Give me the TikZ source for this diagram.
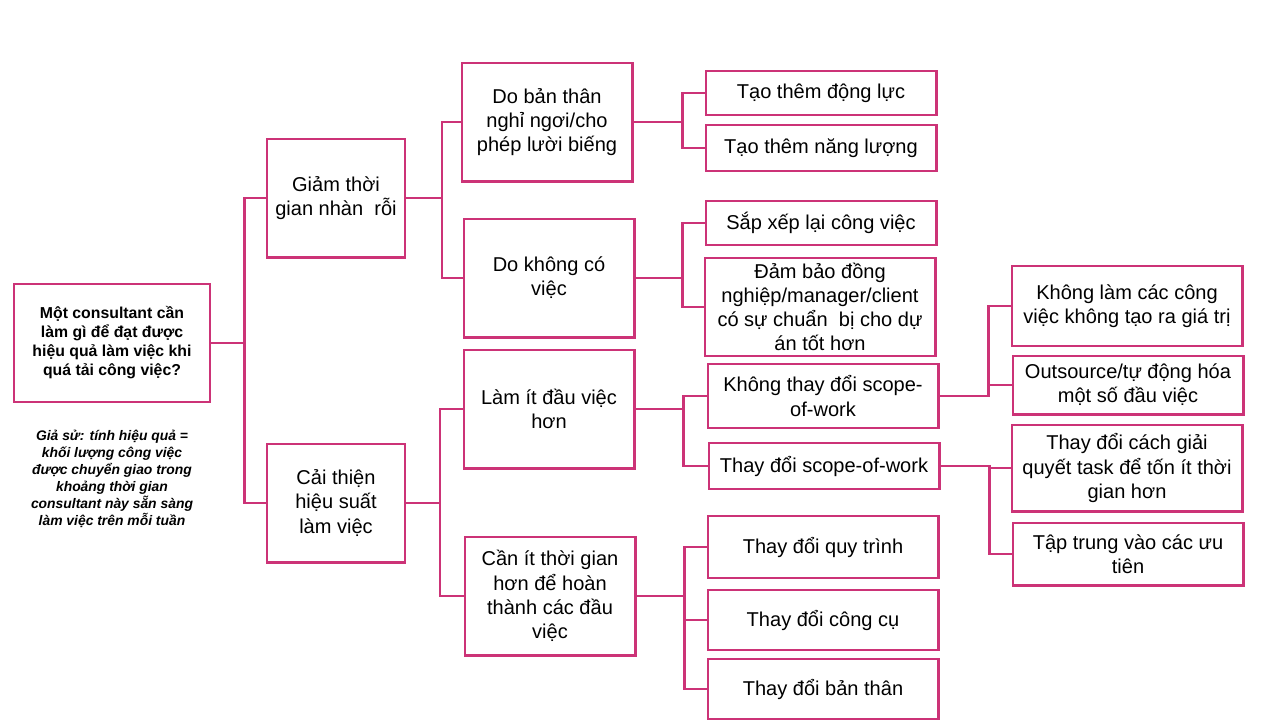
\documentclass[tikz,border=0pt]{standalone}
\usepackage{fontspec}
\setmainfont{Liberation Sans}
\usepackage{tikz}
\usetikzlibrary{positioning}
\definecolor{boxpink}{RGB}{204,51,119}

\begin{document}
\begin{tikzpicture}[
  x=0.02cm, y=-0.02cm,
  every node/.style={align=center, inner sep=1pt, font=\fontsize{11.4}{13.8}\selectfont},
  box/.style={draw=boxpink, line width=1.15pt, fill=white},
  lvone/.style={box, minimum width=2.76cm, minimum height=2.38cm},
  lvtwo/.style={box, minimum width=3.42cm, minimum height=2.38cm},
  leaf/.style={box, minimum width=4.62cm},
  link/.style={draw=boxpink, line width=1.15pt}
]
  \useasboundingbox (0,0) rectangle (1280,720);

  % root question and note
  \node[box, minimum width=3.94cm, minimum height=2.36cm, font=\fontsize{9}{10.8}\selectfont\bfseries] (root) at (112,343)
    {Một consultant cần\\làm gì để đạt được\\hiệu quả làm việc khi\\quá tải công việc?};
  \node[font=\fontsize{7.9}{9.6}\selectfont\bfseries\itshape] (note) at (112,479)
    {Giả sử: tính hiệu quả =\\khối lượng công việc\\được chuyển giao trong\\khoảng thời gian\\consultant này sẵn sàng\\làm việc trên mỗi tuần};

  % first level
  \node[lvone] (gi) at (336,198) {Giảm thời\\gian nhàn\ \ rỗi};
  \node[lvone] (ct) at (336,503) {Cải thiện\\hiệu suất\\làm việc};

  % second level
  \node[lvtwo] (bt) at (547,122) {Do bản thân\\nghỉ ngơi/cho\\phép lười biếng};
  \node[lvtwo] (kc) at (549,278) {Do không có\\việc};
  \node[lvtwo] (li) at (549,409) {Làm ít đầu việc\\hơn};
  \node[lvtwo] (cn) at (550,596) {Cần ít thời gian\\hơn để hoàn\\thành các đầu\\việc};

  % third level
  \node[leaf, minimum height=0.88cm] (dl) at (821,93) {Tạo thêm động lực};
  \node[leaf, minimum height=0.92cm] (nl) at (821,148) {Tạo thêm năng lượng};
  \node[leaf, minimum height=0.88cm] (sx) at (821,223) {Sắp xếp lại công việc};
  \node[leaf, minimum height=1.96cm] (db) at (820,307) {Đảm bảo đồng\\nghiệp/manager/client\\có sự chuẩn\ \ bị cho dự\\án tốt hơn};
  \node[leaf, minimum height=1.28cm] (kt) at (823,396) {Không thay đổi scope-\\of-work};
  \node[leaf, minimum height=0.92cm] (ts) at (824,466) {Thay đổi scope-of-work};
  \node[leaf, minimum height=1.24cm] (qt) at (823,547) {Thay đổi quy trình};
  \node[leaf, minimum height=1.20cm] (cc) at (823,620) {Thay đổi công cụ};
  \node[leaf, minimum height=1.20cm] (ba) at (823,689) {Thay đổi bản thân};

  % fourth level
  \node[leaf, minimum height=1.60cm] (kl) at (1127,306) {Không làm các công\\việc không tạo ra giá trị};
  \node[leaf, minimum height=1.18cm] (os) at (1128,385) {Outsource/tự động hóa\\một số đầu việc};
  \node[leaf, minimum height=1.74cm] (cg) at (1127,468) {Thay đổi cách giải\\quyết task để tốn ít thời\\gian hơn};
  \node[leaf, minimum height=1.26cm] (tt) at (1128,554) {Tập trung vào các ưu\\tiên};

  % connectors
  \draw[link] (root.east) -- ++(33,0) |- (gi.west);
  \draw[link] (root.east) -- ++(33,0) |- (ct.west);
  \draw[link] (gi.east) -- ++(36,0) |- (bt.west);
  \draw[link] (gi.east) -- ++(36,0) |- (kc.west);
  \draw[link] (ct.east) -- ++(34,0) |- (li.west);
  \draw[link] (ct.east) -- ++(34,0) |- (cn.west);
  \draw[link] (bt.east) -- ++(49,0) |- (dl.west);
  \draw[link] (bt.east) -- ++(49,0) |- (nl.west);
  \draw[link] (kc.east) -- ++(47,0) |- (sx.west);
  \draw[link] (kc.east) -- ++(47,0) |- (db.west);
  \draw[link] (li.east) -- ++(48,0) |- (kt.west);
  \draw[link] (li.east) -- ++(48,0) |- (ts.west);
  \draw[link] (cn.east) -- ++(48,0) |- (qt.west);
  \draw[link] (cn.east) -- ++(48,0) |- (cc.west);
  \draw[link] (cn.east) -- ++(48,0) |- (ba.west);
  \draw[link] (kt.east) -- ++(49,0) |- (kl.west);
  \draw[link] (kt.east) -- ++(49,0) |- (os.west);
  \draw[link] (ts.east) -- ++(49,0) |- (cg.west);
  \draw[link] (ts.east) -- ++(49,0) |- (tt.west);
\end{tikzpicture}
\end{document}
